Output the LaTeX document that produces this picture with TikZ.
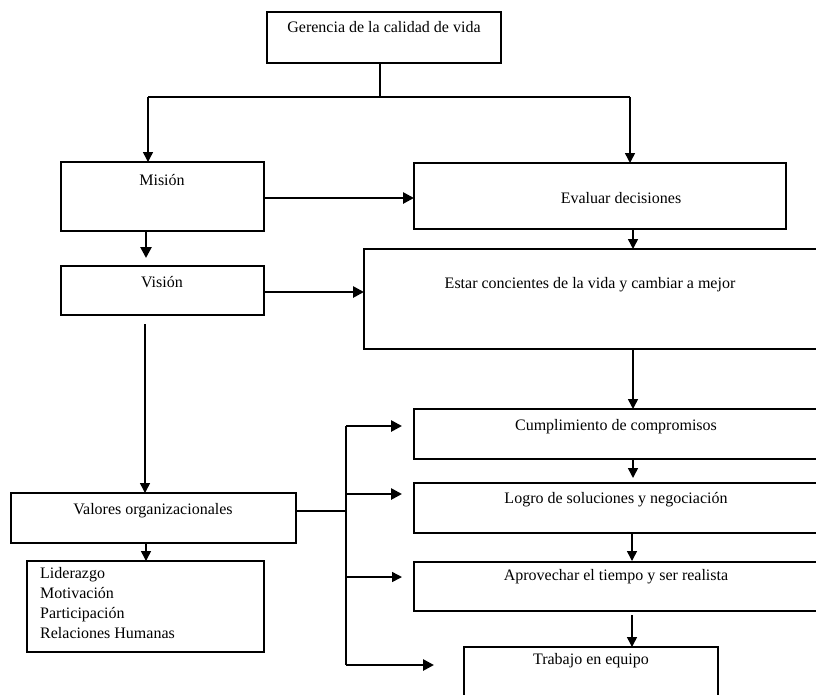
\documentclass[tikz,border=0pt]{standalone}
\usepackage{fontspec}
\setmainfont{Liberation Serif}
\usetikzlibrary{arrows.meta}
\begin{document}
\begin{tikzpicture}[x=1pt,y=-1pt,
  box/.style={draw,line width=1.4pt,inner sep=0pt},
  lbl/.style={inner sep=0pt,font=\fontsize{16}{18}\selectfont},
  conn/.style={line width=1.4pt},
  arr/.style={line width=1.5pt,-{Triangle[length=10pt,width=10pt]}},
  tarr/.style={line width=2.6pt,-{Triangle[length=11pt,width=11pt]}}]
\useasboundingbox (0,0) rectangle (816,694);
\clip (0,0) rectangle (816,694);
\fill[white] (0,0) rectangle (816,694);
% boxes
\draw[box] (267,12) rectangle (501,63);
\draw[box] (61,162) rectangle (264,231);
\draw[box] (414,163) rectangle (786,229);
\draw[box] (61,266) rectangle (264,315);
\draw[box] (364,249) rectangle (822,349);
\draw[box] (414,409) rectangle (822,459);
\draw[box] (414,483) rectangle (822,533);
\draw[box] (414,562) rectangle (822,611);
\draw[box] (464,647) rectangle (718,700);
\draw[box] (11,493) rectangle (296,543);
\draw[box] (27,561) rectangle (264,652);
% texts
\node[lbl] (tGer) at (384,27) {Gerencia de la calidad de vida};
\node[lbl] (tMis) at (162,180) {Misión};
\node[lbl] (tEva) at (621,198) {Evaluar decisiones};
\node[lbl] (tVis) at (162,282) {Visión};
\node[lbl] (tEst) at (590,285) {Estar concientes de la vida y cambiar a mejor};
\node[lbl] (tCum) at (616,427) {Cumplimiento de compromisos};
\node[lbl] (tLog) at (616,500) {Logro de soluciones y negociación};
\node[lbl] (tApr) at (616,577) {Aprovechar el tiempo y ser realista};
\node[lbl] (tTra) at (591,661) {Trabajo en equipo};
\node[lbl] (tVal) at (153,511) {Valores organizacionales};
\node[lbl,anchor=north west,align=left,font=\fontsize{16}{20}\selectfont] (tList) at (40,567) {Liderazgo\\Motivación\\Participación\\Relaciones Humanas};
% coordinates
\coordinate (gA) at (380,63);
\coordinate (gB) at (380,97);
\coordinate (gL) at (148,97);
\coordinate (gR) at (630,97);
\coordinate (misT) at (148,162);
\coordinate (evaT) at (630,163);
\coordinate (misR) at (264,198);
\coordinate (evaL) at (414,198);
\coordinate (misB) at (146,231);
\coordinate (visT) at (146,258);
\coordinate (visR) at (264,292);
\coordinate (estL) at (364,292);
\coordinate (evaB) at (633,229);
\coordinate (estT) at (633,249);
\coordinate (estB) at (633,349);
\coordinate (cumT) at (633,409);
\coordinate (cumB) at (633,459);
\coordinate (logT) at (633,478);
\coordinate (logB) at (632,533);
\coordinate (aprT) at (632,561);
\coordinate (aprB) at (632,615);
\coordinate (traT) at (632,647);
\coordinate (visB) at (145,324);
\coordinate (valT) at (145,493);
\coordinate (valB) at (146,543);
\coordinate (lisT) at (146,561);
\coordinate (valR) at (296,511);
\coordinate (brM) at (346,511);
\coordinate (br1) at (346,426);
\coordinate (br2) at (346,494);
\coordinate (br3) at (346,577);
\coordinate (br4) at (346,665);
\coordinate (e1) at (402,426);
\coordinate (e2) at (402,494);
\coordinate (e3) at (402,577);
\coordinate (e4) at (434,665);
% connectors
\draw[conn] (gA) -- (gB);
\draw[conn] (gL) -- (gR);
\draw[arr] (gL) -- (misT);
\draw[arr] (gR) -- (evaT);
\draw[tarr] (misR) -- (evaL);
\draw[tarr] (misB) -- (visT);
\draw[tarr] (visR) -- (estL);
\draw[arr] (evaB) -- (estT);
\draw[arr] (estB) -- (cumT);
\draw[arr] (cumB) -- (logT);
\draw[arr] (logB) -- (aprT);
\draw[arr] (aprB) -- (traT);
\draw[arr] (visB) -- (valT);
\draw[arr] (valB) -- (lisT);
\draw[conn] (valR) -- (brM);
\draw[line width=2pt] (br1) -- (br4);
\draw[tarr] (br1) -- (e1);
\draw[tarr] (br2) -- (e2);
\draw[arr] (br3) -- (e3);
\draw[tarr] (br4) -- (e4);
\end{tikzpicture}
\end{document}
